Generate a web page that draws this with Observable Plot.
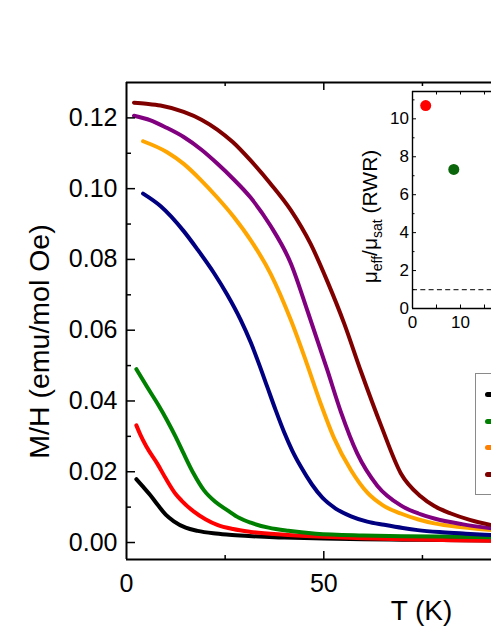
<!DOCTYPE html>
<html><head><meta charset="utf-8">
<script src="https://cdn.jsdelivr.net/npm/d3@7"></script>
<script src="https://cdn.jsdelivr.net/npm/@observablehq/plot@0.6"></script>
<style>
html,body{margin:0;padding:0;background:#fff;overflow:hidden}
#wrap{position:relative;width:491px;height:635px;overflow:hidden;font-family:"Liberation Sans",Arial,sans-serif}
#inset{position:absolute;left:340px;top:80px}
#legend{position:absolute;left:475px;top:373px;width:60px;height:122px;border:1.5px solid #8a8a8a;box-sizing:border-box;background:#fff}
.sw{position:absolute;left:9px;width:30px;height:5px;border-radius:2.5px}
</style></head><body><div id="wrap"></div>
<script>
// ---- data ----
const seriesNames  = ["black", "red", "green", "navy", "orange", "purple", "maroon"];
const seriesColors = ["#000000", "#ff0000", "#008000", "#000080", "#ff8000", "#800080", "#800000"];

const blackT = [2.5, 4, 6, 8, 10, 12, 15, 18, 22, 26, 30, 35, 40, 50, 60, 70, 80, 92.5];
const blackM = [0.0179, 0.0160, 0.0134, 0.0105, 0.0078, 0.0060, 0.0042, 0.0033, 0.0026, 0.0022, 0.0019, 0.0016, 0.0014, 0.0011, 0.0009, 0.0008, 0.0007, 0.0006];

const redT = [2.5, 3.5, 5, 7.8, 10, 12.4, 14, 17, 20, 23, 27, 31.5, 40, 50, 60, 70, 80, 92.5];
const redM = [0.0331, 0.0305, 0.0272, 0.0223, 0.0180, 0.0138, 0.0118, 0.0088, 0.0066, 0.0050, 0.0038, 0.0030, 0.0022, 0.0016, 0.0012, 0.0009, 0.0007, 0.0005];

const greenT = [2.5, 5.2, 8, 10.3, 12.5, 14.5, 17, 19.6, 22.5, 25.6, 28.5, 31.5, 36, 41, 48, 60, 70, 80, 92.5];
const greenM = [0.0490, 0.0440, 0.0390, 0.0345, 0.0298, 0.0251, 0.0195, 0.0148, 0.0115, 0.0091, 0.0070, 0.0056, 0.0042, 0.0033, 0.0025, 0.0020, 0.0018, 0.0017, 0.0015];

const navyT = [4.2, 8.6, 14.5, 18, 22.2, 25.5, 28.9, 31.5, 33.5, 35.7, 37.8, 39.9, 42, 44.2, 47, 49.7, 53, 56.9, 61, 65.3, 70, 73.8, 80, 86, 92.5];
const navyM = [0.0986, 0.0951, 0.0880, 0.0828, 0.0761, 0.0701, 0.0630, 0.0565, 0.0507, 0.0439, 0.0374, 0.0313, 0.0260, 0.0214, 0.0164, 0.0126, 0.0096, 0.0074, 0.0059, 0.0050, 0.0041, 0.0035, 0.0029, 0.0025, 0.0021];

const orangeT = [4.2, 10.3, 14.5, 18.8, 23, 27.2, 31.5, 36.5, 41.6, 45.5, 49.2, 52.6, 56.9, 61.1, 65, 69.5, 74, 78, 85, 92.5];
const orangeM = [0.1134, 0.1103, 0.1070, 0.1025, 0.0975, 0.0920, 0.0854, 0.0760, 0.0630, 0.0512, 0.0393, 0.0295, 0.0204, 0.0140, 0.0105, 0.0082, 0.0065, 0.0054, 0.0043, 0.0035];

const purpleT = [1.9, 6.1, 10, 14.5, 19, 23, 27, 31.5, 36.5, 41.6, 46, 50.9, 54.3, 58.5, 63.6, 69.5, 74, 78, 85, 92.5];
const purpleM = [0.1206, 0.1193, 0.1173, 0.1146, 0.1110, 0.1071, 0.1028, 0.0974, 0.0895, 0.0790, 0.0650, 0.0487, 0.0370, 0.0251, 0.0160, 0.0105, 0.0082, 0.0068, 0.0052, 0.0040];

const maroonT = [1.9, 5, 8.6, 14.5, 19, 23, 27, 31.5, 36.5, 41.6, 46.7, 50.9, 55.2, 59.4, 64.5, 69.5, 74.6, 78, 82.2, 87, 92.5];
const maroonM = [0.1243, 0.1240, 0.1235, 0.1217, 0.1195, 0.1167, 0.1131, 0.1079, 0.1014, 0.0940, 0.0843, 0.0738, 0.0618, 0.0484, 0.0331, 0.0196, 0.0130, 0.0103, 0.0082, 0.0064, 0.0049];

const yTicksMajor = [0, 0.02, 0.04, 0.06, 0.08, 0.10, 0.12];
const yTicksMinor = [0.01, 0.03, 0.05, 0.07, 0.09, 0.11];
const xTicksMajor = [0, 50];
const xTicksMinor = [25, 75];
const xLabel = "T (K)";
const yLabel = "M/H (emu/mol Oe)";

// inset
const insetX = [2.75, 8.6];
const insetY = [10.7, 7.33];
const insetColors = ["#ff0000", "#0b650b"];
const insetRef = [1];
const insetYTicksMajor = [0, 2, 4, 6, 8, 10];
const insetYTicksMinor = [1, 3, 5, 7, 9, 11];
const insetXTickLabels = [0, 10];
const insetXTicks = [5, 10, 15];

// legend (visible part)
const legendColors = ["#000000", "#008000", "#ff8000", "#800000"];

// ---- build ----
const allT = [blackT, redT, greenT, navyT, orangeT, purpleT, maroonT];
const allM = [blackM, redM, greenM, navyM, orangeM, purpleM, maroonM];
const rows = [];
seriesNames.forEach((s, i) => allT[i].forEach((t, j) => rows.push({series: s, T: t, M: allM[i][j]})));

const W = 491, H = 635, mL = 126, mR = 0, mT = 82, mB = 76;
const pW = W - mL - mR, pH = H - mT - mB;
const xDomain = [0, 92.5], yDomain = [-0.0048, 0.13];
const font = "'Liberation Sans', Arial, sans-serif";

const main = Plot.plot({
  width: W, height: H, marginLeft: mL, marginRight: mR, marginTop: mT, marginBottom: mB,
  style: {background: "#fff", fontFamily: font, color: "#000"},
  x: {domain: xDomain},
  y: {domain: yDomain},
  color: {domain: seriesNames, range: seriesColors},
  marks: [
    Plot.line(rows, {x: "T", y: "M", z: "series", stroke: "series", strokeWidth: 4, curve: "monotone-x", strokeLinecap: "round", strokeLinejoin: "round"}),
    Plot.ruleX([xDomain[0]], {strokeWidth: 2}),
    Plot.ruleY([yDomain[0]], {strokeWidth: 2}),
    Plot.ruleY([yDomain[1]], {strokeWidth: 2}),
    Plot.tickY(yTicksMajor, {y: d => d, insetRight: pW - 9, strokeWidth: 1.5}),
    Plot.tickY(yTicksMinor, {y: d => d, insetRight: pW - 5, strokeWidth: 1.5}),
    Plot.tickX(xTicksMajor.filter(d => d > 0), {x: d => d, insetTop: pH - 8, strokeWidth: 1.5}),
    Plot.tickX(xTicksMajor.filter(d => d > 0), {x: d => d, insetBottom: pH - 8, strokeWidth: 1.5}),
    Plot.tickX(xTicksMinor, {x: d => d, insetTop: pH - 4, strokeWidth: 1.5}),
    Plot.tickX(xTicksMinor, {x: d => d, insetBottom: pH - 4, strokeWidth: 1.5}),
    Plot.axisY({ticks: yTicksMajor, tickSize: 0, tickPadding: 9, tickFormat: d3.format(".2f"), fontSize: 25, label: null}),
    Plot.axisX({ticks: xTicksMajor, tickSize: 0, tickPadding: 15, tickFormat: d3.format("d"), fontSize: 25, label: null}),
    Plot.text([xLabel], {frameAnchor: "bottom", dx: 112.5, dy: 60, fontSize: 28, text: d => d})
  ]
});

// main y label (rotated)
d3.select(main).append("text")
  .attr("transform", "translate(49,341.5) rotate(-90)")
  .attr("text-anchor", "middle")
  .attr("font-size", 28.5)
  .attr("font-family", font)
  .attr("fill", "#000")
  .text(yLabel);

const iW = 151, iH = 260, imL = 72, imT = 11, imB = 32;
const ipW = iW - imL, ipH = iH - imT - imB;
const ixDomain = [0, 16.46], iyDomain = [0, 11.44];
const insetPts = insetX.map((x, i) => ({x, y: insetY[i], c: insetColors[i]}));
const inset = Plot.plot({
  width: iW, height: iH, marginLeft: imL, marginRight: 0, marginTop: imT, marginBottom: imB,
  style: {background: "transparent", fontFamily: font, color: "#000", overflow: "visible"},
  x: {domain: ixDomain},
  y: {domain: iyDomain},
  marks: [
    Plot.frame({fill: "#fff", stroke: null}),
    Plot.ruleY(insetRef, {y: d => d, strokeDasharray: "5,3.3", strokeWidth: 1.3, stroke: "#333"}),
    Plot.dot(insetPts, {x: "x", y: "y", fill: "c", r: 5.5}),
    Plot.ruleX([ixDomain[0]], {strokeWidth: 1.4}),
    Plot.ruleY([iyDomain[0]], {strokeWidth: 1.4}),
    Plot.ruleY([iyDomain[1]], {strokeWidth: 1.4}),
    Plot.tickY(insetYTicksMajor.filter(d => d > 0), {y: d => d, insetRight: ipW - 4, strokeWidth: 1}),
    Plot.tickY(insetYTicksMinor, {y: d => d, insetRight: ipW - 2.5, strokeWidth: 1}),
    Plot.tickX(insetXTicks, {x: d => d, insetTop: ipH - 3.5, strokeWidth: 1}),
    Plot.tickX(insetXTicks, {x: d => d, insetBottom: ipH - 3.5, strokeWidth: 1}),
    Plot.axisY({ticks: insetYTicksMajor, tickSize: 0, tickPadding: 3.5, fontSize: 17, label: null}),
    Plot.axisX({ticks: insetXTickLabels, tickSize: 0, tickPadding: 7, fontSize: 17, label: null})
  ]
});
inset.id = "inset";

// inset y label with subscripts
const lab = d3.select(inset).append("text")
  .attr("transform", "translate(37,136.5) rotate(-90)")
  .attr("text-anchor", "middle")
  .attr("font-size", 21)
  .attr("font-family", font)
  .attr("fill", "#000");
lab.append("tspan").text("\u03bc");
lab.append("tspan").attr("font-size", 14).attr("dy", 5).text("eff");
lab.append("tspan").attr("dy", -5).text("/\u03bc");
lab.append("tspan").attr("font-size", 14).attr("dy", 5).text("sat");
lab.append("tspan").attr("dy", -5).text(" (RWR)");

const wrap = document.getElementById("wrap");
wrap.appendChild(main);
wrap.appendChild(inset);

const leg = document.createElement("div");
leg.id = "legend";
legendColors.forEach((c, i) => {
  const s = document.createElement("div");
  s.className = "sw";
  s.style.background = c;
  s.style.top = (18 + i * 26.7) + "px";
  leg.appendChild(s);
});
wrap.appendChild(leg);
</script></body></html>
